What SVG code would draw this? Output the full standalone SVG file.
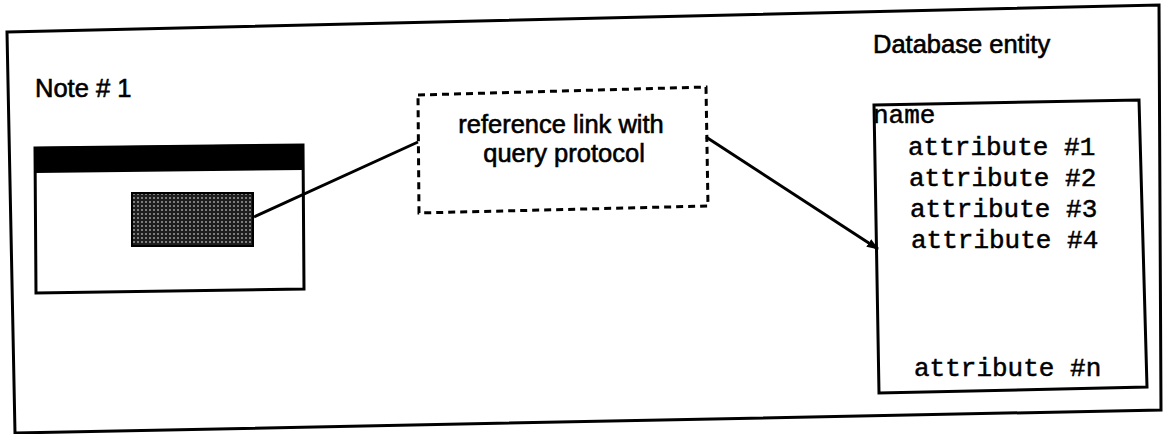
<svg xmlns="http://www.w3.org/2000/svg" width="1163" height="434" viewBox="0 0 1163 434">
<style>
.ln{fill:none;stroke:#000;stroke-width:3;stroke-linejoin:miter}
.sans{font-family:"Liberation Sans",Arial,sans-serif;font-size:25.5px;fill:#000;stroke:#000;stroke-width:0.6}
.mono{font-family:"Liberation Mono","Courier New",monospace;font-size:26px;fill:#000;stroke:#000;stroke-width:0.5}
.dash{fill:none;stroke:#000;stroke-width:3;stroke-dasharray:7 5}
</style>
<defs>
<pattern id="ht" width="4" height="4" patternUnits="userSpaceOnUse">
<rect width="4" height="4" fill="#1e1e1e"/>
<circle cx="2" cy="2" r="0.9" fill="#aaa"/>
</pattern>
<marker id="ah" markerWidth="12" markerHeight="9" refX="11" refY="4.5" orient="auto" markerUnits="userSpaceOnUse">
<path d="M0,0 L12,4.5 L0,9 Z" fill="#000"/>
</marker>
</defs>
<rect width="1163" height="434" fill="#fff"/>
<g id="frame">
<polygon class="ln" points="7,32 1159,5 1161,410 15,433"/>
</g>
<g id="note1">
<text class="sans" x="35" y="97">Note # 1</text>
<polygon class="ln" points="35,148 303,145 304,289 36,293"/>
<polygon fill="#000" points="35,147 303,144 303,170 35,173"/>
<rect x="132" y="193" width="121" height="53" fill="url(#ht)" stroke="#000" stroke-width="2"/>
</g>
<g id="reference-link">
<polygon class="dash" points="418,95 706,87 708,206 419,213"/>
<text class="sans" x="561" y="133" text-anchor="middle">reference link with</text>
<text class="sans" x="564" y="162" text-anchor="middle">query protocol</text>
</g>
<g id="database-entity">
<text class="sans" x="873" y="53">Database entity</text>
<polygon class="ln" points="874,105 1139,100 1147,387 879,393"/>
<text class="mono" x="873" y="123">name</text>
<text class="mono" x="908" y="155">attribute #1</text>
<text class="mono" x="909" y="186">attribute #2</text>
<text class="mono" x="910" y="217">attribute #3</text>
<text class="mono" x="911" y="248">attribute #4</text>
<text class="mono" x="914" y="376">attribute #n</text>
</g>
<g id="connectors">
<line class="ln" x1="254" y1="217" x2="418" y2="142"/>
<line class="ln" x1="706" y1="137" x2="878" y2="249" marker-end="url(#ah)"/>
</g>
</svg>
